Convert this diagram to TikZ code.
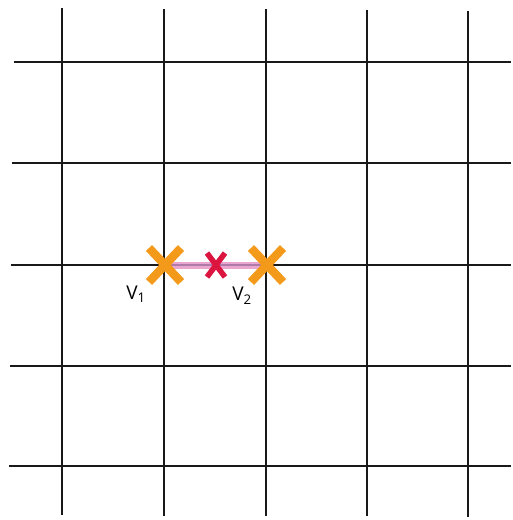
\documentclass[tikz,border=0pt]{standalone}
\usepackage{fontspec}
\setmainfont{Open Sans}
\usetikzlibrary{calc}
\definecolor{crossorange}{HTML}{F39A1B}
\definecolor{crossred}{HTML}{DC1440}
\definecolor{edgepink}{HTML}{E9A6CF}
\definecolor{edgepurple}{HTML}{B07AA8}
\begin{document}
\begin{tikzpicture}[x=1pt,y=-1pt,
  gridline/.style={line width=2.3pt,black!90},
  bigcross/.style={crossorange,line width=8.5pt},
  smallcross/.style={crossred,line width=5.5pt},
  lbl/.style={font=\fontsize{19}{19}\selectfont,inner sep=0pt}]
\useasboundingbox (0,0) rectangle (512,520);
\fill[white] (0,0) rectangle (512,520);
% vertical lines
\draw[gridline] (62,8) -- (62,515);
\draw[gridline] (164,9) -- (164,516);
\draw[gridline] (266,9) -- (266,516);
\draw[gridline] (367,10) -- (367,516);
\draw[gridline] (468,11) -- (468,517);
% horizontal lines
\draw[gridline] (14,62) -- (511,62);
\draw[gridline] (12,163) -- (511,163);
\draw[gridline] (11,265) -- (511,265);
\draw[gridline] (10,366) -- (511,366);
\draw[gridline] (9,466) -- (511,466);
% vertices
\coordinate (v1) at (165,265);
\coordinate (v2) at (267,265);
\coordinate (m) at (216,265);
% edge
\draw[edgepink,line width=7pt] (v1) -- (v2);
\draw[edgepurple,line width=2pt] (v1) -- (v2);
% crosses
\draw[bigcross] ($(v1)+(-16,-17)$) -- ($(v1)+(16,17)$);
\draw[bigcross] ($(v1)+(-16,17)$) -- ($(v1)+(16,-17)$);
\draw[bigcross] ($(v2)+(-16,-17)$) -- ($(v2)+(16,17)$);
\draw[bigcross] ($(v2)+(-16,17)$) -- ($(v2)+(16,-17)$);
\draw[smallcross] ($(m)+(-9,-12)$) -- ($(m)+(9,12)$);
\draw[smallcross] ($(m)+(-9,12)$) -- ($(m)+(9,-12)$);
% labels
\node[lbl] (l1) at (136,294) {V\textsubscript{1}};
\node[lbl] (l2) at (242,296) {V\textsubscript{2}};
\end{tikzpicture}
\end{document}
